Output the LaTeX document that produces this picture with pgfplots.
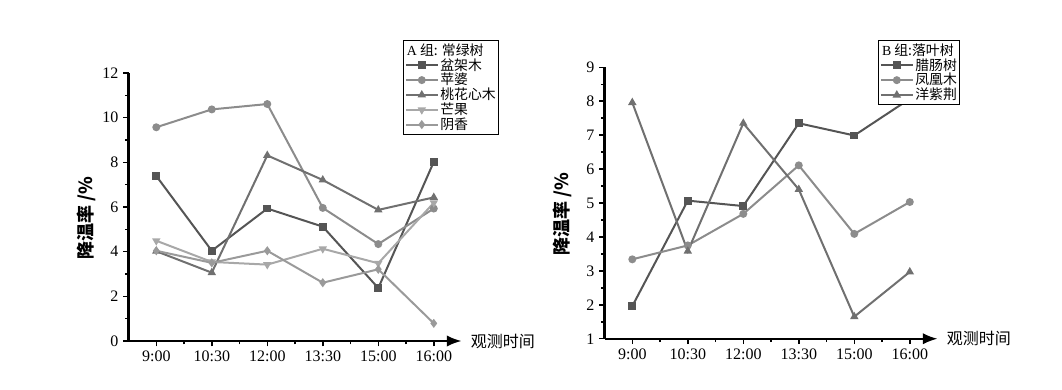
\documentclass[border=0pt]{standalone}
\usepackage{fontspec}
\setmainfont{Liberation Serif}
\newfontfamily\cjk{Noto Sans CJK SC}
\usepackage{pgfplots}
\pgfplotsset{compat=1.18}
\usetikzlibrary{arrows.meta}
\definecolor{sA}{HTML}{555555}
\definecolor{sB}{HTML}{8C8C8C}
\definecolor{sC}{HTML}{707070}
\definecolor{sD}{HTML}{A8A8A8}
\definecolor{sE}{HTML}{9A9A9A}
\pgfplotsset{
  myaxis/.style={
    scale only axis,
    width=249.75pt,
    axis lines=left,
    x axis line style={-{Latex[length=11pt,width=8.5pt]}},
    y axis line style={-},
    axis line style={line width=1.6pt,black},
    tick style={line width=1.1pt,black},
    major tick length=4pt,
    minor tick length=2.5pt,
    tick align=outside,
    xmin=-0.5, xmax=5.5,
    xtick={0,1,2,3,4,5},
    xticklabels={9:00,10:30,12:00,13:30,15:00,16:00},
    minor x tick num=1,
    minor y tick num=1,
    /pgf/number format/assume math mode=true,
    ticklabel style={font=\fontsize{12}{14}\selectfont},
    xlabel={\cjk\fontsize{12}{14}\selectfont 观测时间},
    xlabel style={at={(axis description cs:1,0)},anchor=west,xshift=3.5pt},
    ylabel={\cjk\bfseries\fontsize{13.5}{16}\selectfont 降温率 /\%},
    ylabel style={at={(axis description cs:-0.128,0.459)},anchor=center},
    legend cell align=left,
    legend style={draw=black,line width=0.9pt,fill=white,inner sep=1pt,row sep=-1.5pt,
      font=\cjk\fontsize{10.4}{11}\selectfont, anchor=north west,
      nodes={inner sep=1.2pt}},
    legend image code/.code={\draw[mark repeat=2,mark phase=2] plot coordinates {(0cm,0cm)(0.42cm,0cm)(0.84cm,0cm)};},
    every axis plot/.append style={line width=1.5pt, mark size=2.2pt},
  }
}
\begin{document}
\begin{tikzpicture}
\useasboundingbox (0,0) rectangle (796.5pt,291.75pt);
\begin{axis}[myaxis,
  at={(96.4pt,36pt)}, anchor=south west,
  height=201pt,
  ymin=0, ymax=12, ytick={0,2,4,6,8,10,12},
  legend style={at={(axis description cs:0.824,1.123)}},
]
\addlegendimage{empty legend}
\addlegendentry{\hspace*{-25pt}{\rmfamily A} 组: 常绿树}
\addplot[color=sA, mark=square*] coordinates {(0,7.39)(1,4.04)(2,5.93)(3,5.12)(4,2.37)(5,8.02)};
\addlegendentry{盆架木}
\addplot[color=sB, mark=*] coordinates {(0,9.57)(1,10.37)(2,10.61)(3,5.96)(4,4.34)(5,5.93)};
\addlegendentry{苹婆}
\addplot[color=sC, mark=triangle*] coordinates {(0,4.02)(1,3.06)(2,8.31)(3,7.21)(4,5.87)(5,6.43)};
\addlegendentry{桃花心木}
\addplot[color=sD, mark=triangle*, every mark/.append style={rotate=180}] coordinates {(0,4.49)(1,3.54)(2,3.42)(3,4.13)(4,3.48)(5,6.19)};
\addlegendentry{芒果}
\addplot[color=sE, mark=diamond*] coordinates {(0,4.04)(1,3.50)(2,4.04)(3,2.61)(4,3.21)(5,0.79)};
\addlegendentry{阴香}
\end{axis}
\begin{axis}[myaxis,
  at={(453.4pt,37.7pt)}, anchor=south west,
  height=203.6pt,
  ymin=1, ymax=9, ytick={1,2,3,4,5,6,7,8,9},
  legend style={at={(axis description cs:0.821,1.10)}},
]
\addlegendimage{empty legend}
\addlegendentry{\hspace*{-25pt}{\rmfamily B} 组:落叶树}
\addplot[color=sA, mark=square*] coordinates {(0,1.96)(1,5.07)(2,4.91)(3,7.35)(4,6.99)(5,8.07)};
\addlegendentry{腊肠树}
\addplot[color=sB, mark=*] coordinates {(0,3.34)(1,3.75)(2,4.68)(3,6.11)(4,4.09)(5,5.03)};
\addlegendentry{凤凰木}
\addplot[color=sC, mark=triangle*] coordinates {(0,7.96)(1,3.58)(2,7.35)(3,5.40)(4,1.65)(5,2.97)};
\addlegendentry{洋紫荆}
\end{axis}
\end{tikzpicture}
\end{document}
